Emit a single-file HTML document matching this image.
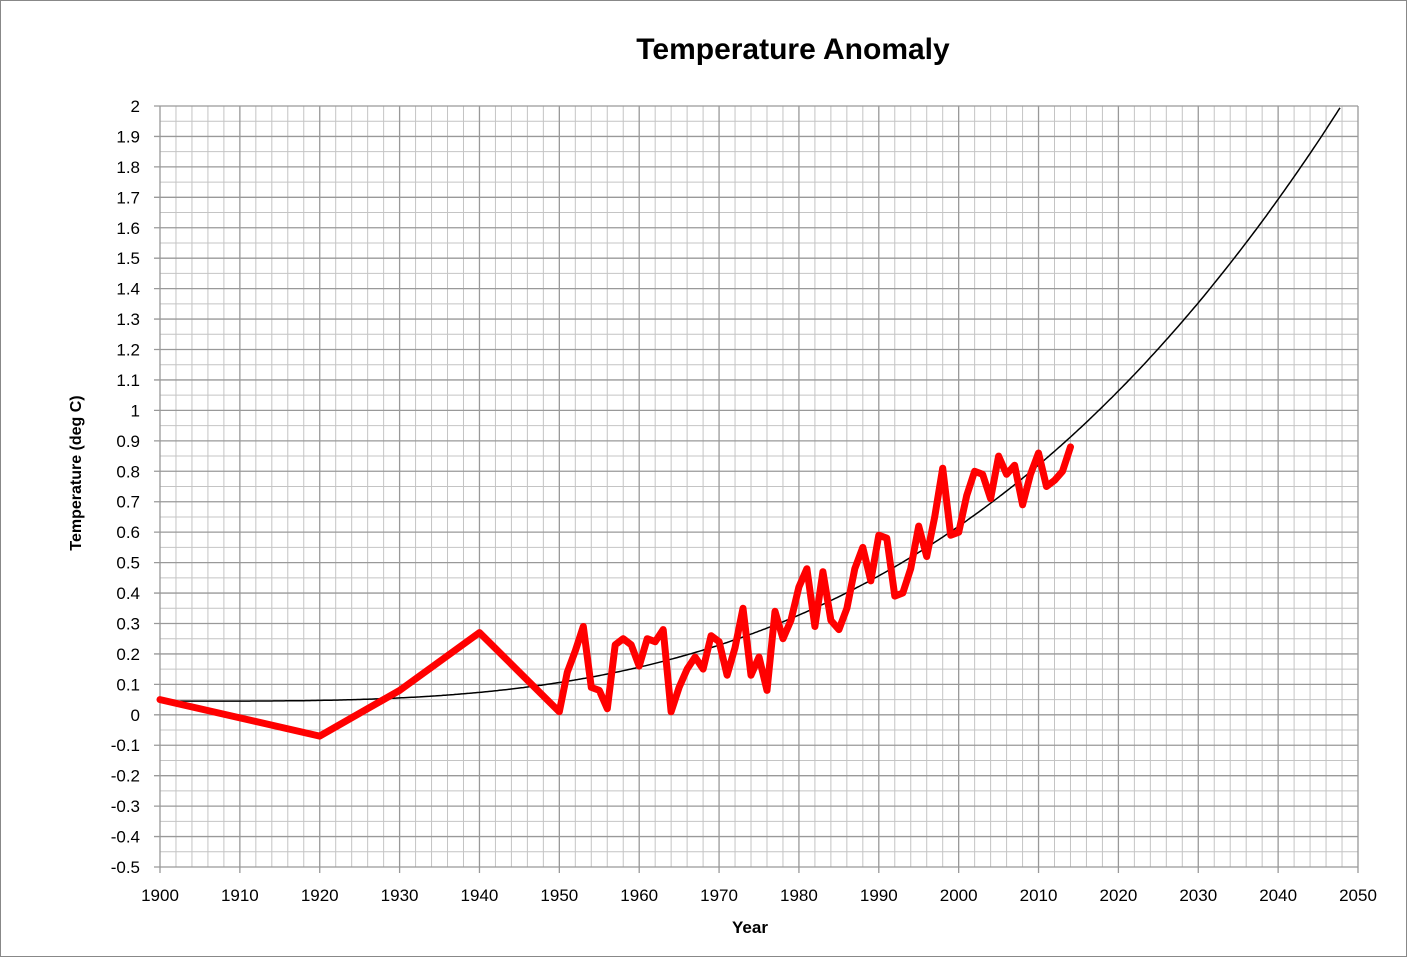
<!DOCTYPE html>
<html><head><meta charset="utf-8"><style>
html,body{margin:0;padding:0;background:#fff;}
svg{display:block;}
text{font-family:"Liberation Sans",Arial,sans-serif;fill:#000;}
</style></head><body>
<svg id="s" width="1407" height="957" viewBox="0 0 1407 957" xmlns="http://www.w3.org/2000/svg">
<rect x="0.5" y="0.5" width="1406" height="956" fill="#fff" stroke="#888" stroke-width="1"/>
<text x="793" y="59" font-size="30" font-weight="bold" text-anchor="middle">Temperature Anomaly</text>
<text x="750" y="933" font-size="17" font-weight="bold" text-anchor="middle">Year</text>
<text transform="translate(81,473) rotate(-90)" font-size="16" font-weight="bold" text-anchor="middle">Temperature (deg C)</text>
<g id="g"></g>
</svg>
<script>
var NS="http://www.w3.org/2000/svg",g=document.getElementById("g");
function X(y){return 160+(y-1900)*1198/150;}
function Y(v){return 867-(v+0.5)*761/2.5;}
function el(t,a,txt){var e=document.createElementNS(NS,t);for(var k in a)e.setAttribute(k,a[k]);if(txt!==undefined)e.textContent=txt;g.appendChild(e);return e;}
for(var yr=1900;yr<=2050;yr+=2){if(yr%10)el("line",{x1:X(yr),x2:X(yr),y1:Y(2),y2:Y(-0.5),stroke:"#c4c4c4","stroke-width":1});}
for(var i=-10;i<=40;i++){if(i%2){var v=i*0.05;el("line",{x1:X(1900),x2:X(2050),y1:Y(v),y2:Y(v),stroke:"#c4c4c4","stroke-width":1});}}
for(var yr=1900;yr<=2050;yr+=10){el("line",{x1:X(yr),x2:X(yr),y1:Y(2),y2:Y(-0.5)+6,stroke:"#999","stroke-width":1.3});
 el("text",{x:X(yr),y:901,"font-size":17,"text-anchor":"middle"},String(yr));}
for(var i=-5;i<=20;i++){var v=i/10;el("line",{x1:X(1900)-6,x2:X(2050),y1:Y(v),y2:Y(v),stroke:"#999","stroke-width":1.3});
 var s=(Math.round(v*10)/10).toString();el("text",{x:140,y:Y(v)+6,"font-size":17,"text-anchor":"end"},s);}
var p=[];for(var yr=1900;yr<=2050;yr+=0.25){var t=yr-1905;var v=0.045+6.7e-7*t*t*t;if(v>2)break;p.push(X(yr).toFixed(1)+","+Y(v).toFixed(1));}
el("polyline",{points:p.join(" "),fill:"none",stroke:"#000","stroke-width":1.5});
var d=[[1900,.05],[1920,-.07],[1930,.08],[1940,.27],[1950,.01]];
var a=[.14,.21,.29,.09,.08,.02,.23,.25,.23,.16,.25,.24,.28,.01,.09,.15,.19,.15,.26,.24,.13,.22,.35,.13,.19,.08,.34,.25,.31,.42,.48,.29,.47,.31,.28,.35,.48,.55,.44,.59,.58,.39,.40,.48,.62,.52,.65,.81,.59,.60,.72,.80,.79,.71,.85,.79,.82,.69,.79,.86,.75,.77,.80,.88];
for(var i=0;i<a.length;i++)d.push([1951+i,a[i]]);
el("polyline",{points:d.map(function(q){return X(q[0]).toFixed(1)+","+Y(q[1]).toFixed(1);}).join(" "),fill:"none",stroke:"#ff0000","stroke-width":7,"stroke-linejoin":"round","stroke-linecap":"round"});
</script>
</body></html>
